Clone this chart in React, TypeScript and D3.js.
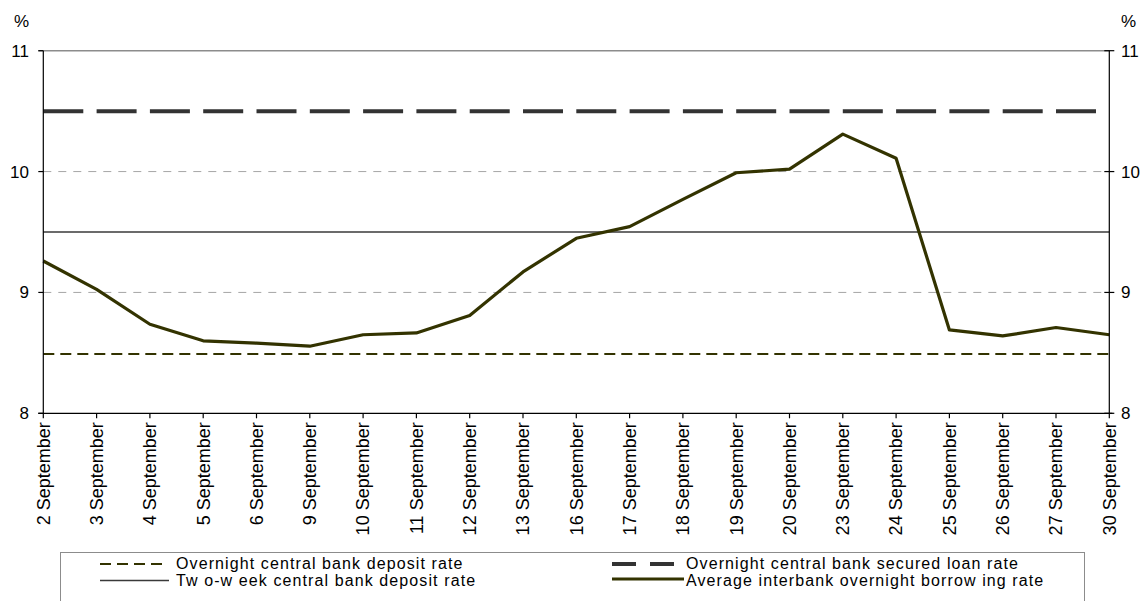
import React from 'react';
import * as d3 from 'd3';

// Trading days of September
const dates = [
  '2 September', '3 September', '4 September', '5 September', '6 September',
  '9 September', '10 September', '11 September', '12 September', '13 September',
  '16 September', '17 September', '18 September', '19 September', '20 September',
  '23 September', '24 September', '25 September', '26 September', '27 September',
  '30 September',
];

// Average interbank overnight borrowing rate, %
const interbankRate = [
  9.26, 9.025, 8.737, 8.6, 8.58, 8.555, 8.65, 8.665, 8.81, 9.17,
  9.448, 9.544, 9.77, 9.99, 10.02, 10.31, 10.11, 8.69, 8.64, 8.71, 8.65,
];

// Central bank policy rates, %
const overnightDepositRate = 8.49;
const securedLoanRate = 10.5;
const twoWeekDepositRate = 9.5;

const yTicks = [8, 9, 10, 11];
const yGrid = [9, 10];

const legendLabels = [
  'Overnight central bank deposit rate',
  'Tw o-w eek central bank deposit rate',
  'Overnight central bank secured loan rate',
  'Average interbank overnight borrow ing rate',
];

const FONT = '"Liberation Sans", Arial, Helvetica, sans-serif';
const OLIVE = '#333300';
const DARK = '#333333';

export default function App() {
  const W = 1147;
  const H = 601;
  const left = 43.3;
  const right = 1109.3;
  const top = 50.7;
  const bottom = 413.3;

  const x = d3.scalePoint<string>().domain(dates).range([left, right]);
  const y = d3.scaleLinear().domain([8, 11]).range([bottom, top]);

  const line = d3
    .line<number>()
    .x((_, i) => x(dates[i]) as number)
    .y((d) => y(d));

  const legendTop = 552;
  const row1 = 564;
  const row2 = 580.5;
  const legendText = { fontSize: 16, letterSpacing: 1.1, fill: '#000' };

  return (
    <svg
      width={W}
      height={H}
      style={{ position: 'absolute', left: 0, top: 0, background: '#fff' }}
      fontFamily={FONT}
    >
      <rect x={0} y={0} width={W} height={H} fill="#fff" />

      {/* grid */}
      {yGrid.map((t) => (
        <line
          key={t}
          x1={left}
          x2={right}
          y1={y(t)}
          y2={y(t)}
          stroke="#a6a6a6"
          strokeWidth={1}
          strokeDasharray="8,7"
        />
      ))}
      <line x1={left - 5} x2={right} y1={y(11)} y2={y(11)} stroke="#8c8c8c" strokeWidth={1.5} />

      {/* policy rates */}
      <line
        x1={left}
        x2={right}
        y1={y(securedLoanRate)}
        y2={y(securedLoanRate)}
        stroke={DARK}
        strokeWidth={4}
        strokeDasharray="40,13.3"
      />
      <line
        x1={left}
        x2={right}
        y1={y(twoWeekDepositRate)}
        y2={y(twoWeekDepositRate)}
        stroke="#3a3a3a"
        strokeWidth={1.4}
      />
      <line
        x1={left}
        x2={right}
        y1={y(overnightDepositRate)}
        y2={y(overnightDepositRate)}
        stroke={OLIVE}
        strokeWidth={2}
        strokeDasharray="11,6"
      />

      {/* interbank rate */}
      <path
        d={line(interbankRate) as string}
        fill="none"
        stroke={OLIVE}
        strokeWidth={3.2}
        strokeLinejoin="round"
      />

      {/* axes */}
      <line x1={left} x2={left} y1={top} y2={bottom} stroke="#000" strokeWidth={1.2} />
      <line x1={right} x2={right} y1={top} y2={bottom} stroke="#000" strokeWidth={1.2} />
      <line x1={left - 5} x2={right + 3} y1={bottom} y2={bottom} stroke="#000" strokeWidth={1.2} />

      {yTicks.map((t) => (
        <g key={t}>
          <line x1={left - 5} x2={left} y1={y(t)} y2={y(t)} stroke="#000" strokeWidth={1.2} />
          <line x1={right - 5} x2={right + 5} y1={y(t)} y2={y(t)} stroke="#000" strokeWidth={1.2} />
          <text x={29} y={y(t)} dy="0.35em" textAnchor="end" fontSize={17} fill="#000">
            {t}
          </text>
          <text x={1121} y={y(t)} dy="0.35em" textAnchor="start" fontSize={17} fill="#000">
            {t}
          </text>
        </g>
      ))}
      <text x={14} y={27} fontSize={17} fill="#000">%</text>
      <text x={1121} y={27} fontSize={17} fill="#000">%</text>

      {dates.map((d) => {
        const px = x(d) as number;
        return (
          <g key={d}>
            <line x1={px} x2={px} y1={bottom} y2={bottom + 5} stroke="#000" strokeWidth={1.2} />
            <text
              transform={`translate(${px},${bottom + 9}) rotate(-90)`}
              dy="0.35em"
              textAnchor="end"
              fontSize={18}
              fill="#000"
            >
              {d}
            </text>
          </g>
        );
      })}

      {/* legend */}
      <rect
        x={60.5}
        y={legendTop + 0.5}
        width={1024}
        height={70}
        fill="none"
        stroke="#8c8c8c"
        strokeWidth={1}
      />
      <line x1={100} x2={166} y1={row1} y2={row1} stroke={OLIVE} strokeWidth={2} strokeDasharray="11,6" />
      <text x={176} y={row1 + 5.2} {...legendText}>{legendLabels[0]}</text>
      <line x1={100} x2={169} y1={row2} y2={row2} stroke="#3a3a3a" strokeWidth={1.4} />
      <text x={176} y={row2 + 5.8} {...legendText}>{legendLabels[1]}</text>

      <line x1={612} x2={676} y1={row1} y2={row1} stroke={DARK} strokeWidth={4} strokeDasharray="24,14" />
      <text x={686} y={row1 + 5.2} {...legendText}>{legendLabels[2]}</text>
      <line x1={612} x2={684} y1={row2 - 1.5} y2={row2 - 1.5} stroke={OLIVE} strokeWidth={3} />
      <text x={686} y={row2 + 5.8} {...legendText}>{legendLabels[3]}</text>
    </svg>
  );
}
